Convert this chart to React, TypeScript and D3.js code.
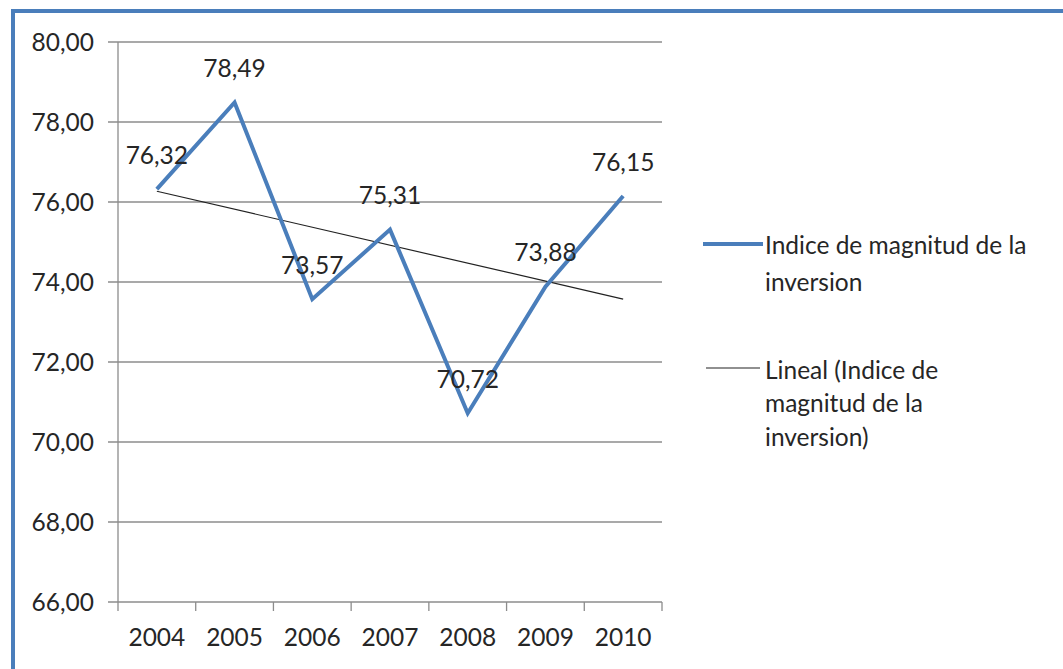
import React from "react";
import * as d3 from "d3";

const years = ["2004", "2005", "2006", "2007", "2008", "2009", "2010"];
const values = [76.32, 78.49, 73.57, 75.31, 70.72, 73.88, 76.15];
const yTicks = [66, 68, 70, 72, 74, 76, 78, 80];
const seriesName = "Indice de magnitud de la inversion";
const legendLines1 = ["Indice de magnitud de la", "inversion"];
const legendLines2 = ["Lineal (Indice de", "magnitud de la", "inversion)"];

const W = 1063;
const H = 669;
const FONT = "Lato, 'Open Sans', sans-serif";
const FS = 24.5;
const BLUE = "#4a7ebb";
const GRID = "#8c8c8c";
const TXT = "#262626";

export default function App() {
  const left = 118, right = 662, top = 42, bottom = 602;
  const x = d3.scaleBand<string>().domain(years).range([left, right]);
  const y = d3.scaleLinear().domain([66, 80]).range([bottom, top]);
  const cx = (i: number) => (x(years[i]) as number) + x.bandwidth() / 2;

  const line = d3
    .line<number>()
    .x((_, i) => cx(i))
    .y((d) => y(d));

  // least squares trend
  const n = values.length;
  const mx = d3.mean(values.map((_, i) => i)) as number;
  const my = d3.mean(values) as number;
  const sxy = d3.sum(values.map((v, i) => (i - mx) * (v - my)));
  const sxx = d3.sum(values.map((_, i) => (i - mx) * (i - mx)));
  const slope = sxy / sxx;
  const trend = (i: number) => my + slope * (i - mx);

  const fmt = (v: number) => v.toFixed(2).replace(".", ",");

  return (
    <svg
      width={W}
      height={H}
      style={{ position: "absolute", left: 0, top: 0, background: "#fff" }}
    >
      <rect x={0} y={0} width={W} height={H} fill="#fff" />
      {/* frame */}
      <rect x={13} y={11} width={W + 20} height={H + 20} fill="none" stroke={BLUE} strokeWidth={4} />

      {/* gridlines */}
      {yTicks.map((t) => (
        <line key={t} x1={left - 10} x2={right} y1={y(t)} y2={y(t)} stroke={GRID} strokeWidth={1.3} />
      ))}
      {/* y axis */}
      <line x1={left} x2={left} y1={top} y2={bottom} stroke={GRID} strokeWidth={1.3} />
      {/* x ticks */}
      {years.map((yr) => (
        <line key={yr} x1={x(yr) as number} x2={x(yr) as number} y1={bottom} y2={bottom + 9} stroke={GRID} strokeWidth={1.3} />
      ))}
      <line x1={right} x2={right} y1={bottom} y2={bottom + 9} stroke={GRID} strokeWidth={1.3} />

      {/* y labels */}
      {yTicks.map((t) => (
        <text key={t} x={94} y={y(t)} dy="0.35em" textAnchor="end" fontFamily={FONT} fontSize={FS} fill={TXT}>
          {fmt(t)}
        </text>
      ))}
      {/* x labels */}
      {years.map((yr, i) => (
        <text key={yr} x={cx(i)} y={637} dy="0.35em" textAnchor="middle" fontFamily={FONT} fontSize={FS} fill={TXT}>
          {yr}
        </text>
      ))}

      {/* trend line */}
      <line x1={cx(0)} x2={cx(n - 1)} y1={y(trend(0))} y2={y(trend(n - 1))} stroke="#222" strokeWidth={1.2} />

      {/* series */}
      <path d={line(values) as string} fill="none" stroke={BLUE} strokeWidth={4} strokeLinejoin="miter" />

      {/* data labels */}
      {values.map((v, i) => (
        <text key={i} x={cx(i)} y={y(v) - 34} dy="0.35em" textAnchor="middle" fontFamily={FONT} fontSize={FS} fill={TXT}>
          {fmt(v)}
        </text>
      ))}

      {/* legend */}
      <g aria-label={seriesName}>
        <line x1={703} x2={763} y1={244} y2={244} stroke={BLUE} strokeWidth={4} />
        {legendLines1.map((l, i) => (
          <text key={i} x={765} y={245 + i * 37} dy="0.35em" fontFamily={FONT} fontSize={FS} fill={TXT}>
            {l}
          </text>
        ))}
        <line x1={706} x2={760} y1={368} y2={368} stroke="#222" strokeWidth={1.2} />
        {legendLines2.map((l, i) => (
          <text key={i} x={765} y={370 + i * 33.5} dy="0.35em" fontFamily={FONT} fontSize={FS} fill={TXT}>
            {l}
          </text>
        ))}
      </g>
    </svg>
  );
}
